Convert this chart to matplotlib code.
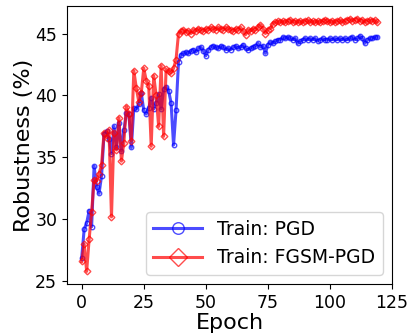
import numpy as np
import matplotlib
matplotlib.use("Agg")
import matplotlib.pyplot as plt

epochs = np.arange(120)

# robust accuracy per epoch, model trained with PGD
pgd = [26.9, 29.2, 29.7, 30.7, 29.4, 34.3, 32.6, 32.1, 33.5, 36.9,
       37.1, 36.5, 35.3, 37.5, 35.8, 37.8, 35.5, 37.2, 38.6, 38.5,
       35.8, 39.0, 38.9, 39.3, 40.2, 38.8, 38.5, 39.0, 39.8, 38.9,
       39.4, 40.1, 38.9, 40.5, 40.7, 40.4, 39.4, 36.0, 38.8, 42.7,
       43.3, 43.4, 43.5, 43.4, 43.6, 43.7, 43.5, 43.8, 43.9, 43.6,
       43.2, 43.7, 43.9, 44.0, 43.9, 43.8, 44.0, 43.9, 43.7, 43.8,
       43.7, 43.9, 44.0, 43.8, 43.9, 44.1, 43.8, 43.7, 43.8, 43.9,
       44.0, 44.2, 43.9, 44.0, 43.4, 44.1, 44.3, 44.2, 44.4, 44.5,
       44.5, 44.7, 44.6, 44.7, 44.6, 44.5, 44.6, 44.2, 44.4, 44.5,
       44.6, 44.5, 44.6, 44.5, 44.6, 44.4, 44.5, 44.6, 44.5, 44.5,
       44.6, 44.5, 44.6, 44.5, 44.6, 44.5, 44.6, 44.5, 44.6, 44.7,
       44.5, 44.6, 44.8, 44.6, 44.2, 44.5, 44.6, 44.6, 44.7, 44.7]

# robust accuracy per epoch, model trained with FGSM then PGD
fgsm_pgd = [26.6, 28.0, 25.8, 28.4, 30.6, 33.2, 33.1, 33.7, 34.4, 37.0,
            36.6, 37.2, 30.2, 37.0, 35.6, 38.2, 34.7, 36.2, 39.1, 38.5,
            36.3, 42.0, 40.6, 39.5, 40.2, 42.2, 41.2, 40.8, 35.9, 41.6,
            40.0, 37.5, 42.4, 36.7, 42.1, 42.0, 41.8, 42.2, 42.9, 45.0,
            45.2, 45.3, 45.1, 45.2, 45.0, 45.3, 45.2, 45.4, 45.3, 45.2,
            45.4, 45.3, 45.5, 45.4, 45.3, 45.5, 45.4, 45.3, 45.5, 45.4,
            45.3, 45.2, 45.4, 45.3, 45.5, 45.2, 44.9, 45.3, 45.2, 45.4,
            45.3, 45.5, 45.7, 45.4, 45.0, 45.3, 45.4, 45.8, 45.9, 46.0,
            45.9, 46.0, 45.9, 46.0, 46.1, 45.9, 46.0, 45.9, 46.0, 45.9,
            46.0, 46.1, 45.9, 46.0, 45.9, 46.0, 45.9, 46.0, 46.1, 46.0,
            45.9, 46.0, 45.9, 46.0, 46.1, 45.9, 46.0, 46.1, 46.2, 46.0,
            46.1, 46.2, 46.0, 46.1, 45.9, 46.0, 46.1, 46.0, 46.1, 45.9]

labels = ["Train: PGD", "Train: FGSM-PGD"]

fig = plt.figure(figsize=(4.08, 3.33), dpi=100)
ax = fig.add_axes([0.164, 0.147, 0.797, 0.835])

ax.plot(epochs, pgd, "b-o", lw=2.2, ms=3.2, mfc="none", alpha=0.7, label=labels[0])
ax.plot(epochs, fgsm_pgd, "r-D", lw=2.2, ms=3.4, mfc="none", alpha=0.7, label=labels[1])

ax.set_xticks([0, 25, 50, 75, 100, 125])
ax.set_xlim(-5.95, 125.02)
ax.set_yticks([25, 30, 35, 40, 45])
ax.tick_params(labelsize=12.5)
ax.set_xlabel("Epoch", fontsize=16, labelpad=1)
ax.set_ylabel("Robustness (%)", fontsize=16, labelpad=1)
ax.legend(loc="lower right", fontsize=13.5, markerscale=2.6,
          handlelength=2.6, handletextpad=0.8)

fig.savefig("out.png", dpi=100)
